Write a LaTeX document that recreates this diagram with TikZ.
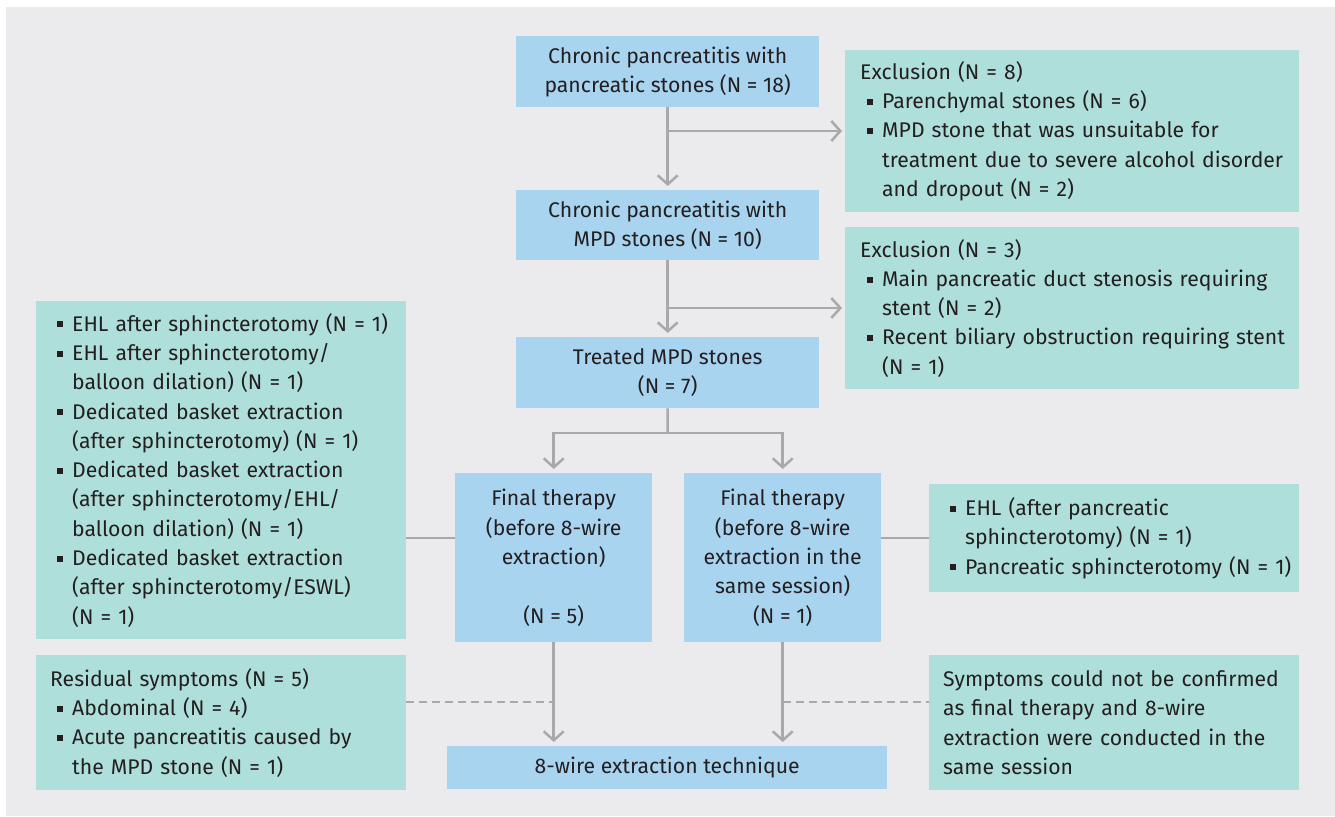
\documentclass[tikz,border=0pt]{standalone}
\usepackage{fontspec}
\setmainfont{Fira Sans}
\usetikzlibrary{arrows.meta,calc}
\definecolor{bgc}{HTML}{EBEBED}
\definecolor{bluebox}{HTML}{A9D4F0}
\definecolor{tealbox}{HTML}{AFDFDA}
\definecolor{lngray}{HTML}{A9A9AB}
\definecolor{txt}{HTML}{231F20}
\newcommand\bul{\hspace*{7pt}\makebox[15pt][l]{\raisebox{3.8pt}{\rule{6pt}{6pt}}}}
\newcommand\ind{\hspace*{22pt}}
\begin{document}
\begin{tikzpicture}[x=1pt,y=-1pt,
  every node/.style={font=\fontsize{21.2}{29.3}\selectfont, text=txt, inner sep=0pt},
  bbox/.style={fill=bluebox, anchor=north west, align=center},
  tbox/.style={fill=tealbox, anchor=north west, align=left, inner xsep=14pt},
  ln/.style={draw=lngray, line width=2.5pt},
  arr/.style={ln, -{Straight Barb[length=9pt,width=20pt,line width=2.5pt]}, shorten >=4pt},
  dsh/.style={draw=lngray, line width=2pt, dash pattern=on 8pt off 5pt}]
\useasboundingbox (0,0) rectangle (1335,816);
\fill[bgc] (6,7) rectangle (1335,816);
% main column
\node[bbox, minimum width=303pt, minimum height=71pt] (a) at (516,36)
  {Chronic pancreatitis with\\pancreatic stones (N = 18)};
\node[bbox, minimum width=303pt, minimum height=70pt] (b) at (516,190)
  {Chronic pancreatitis with\\MPD stones (N = 10)};
\node[bbox, minimum width=303pt, minimum height=71pt] (c) at (516,337)
  {Treated MPD stones\\(N = 7)};
\node[bbox, minimum width=197pt, minimum height=169pt] (d) at (455,473)
  {Final therapy\\(before 8-wire\\extraction)\\[29.3pt](N = 5)};
\node[bbox, minimum width=197pt, minimum height=169pt] (e) at (684,473)
  {Final therapy\\(before 8-wire\\extraction in the\\same session)\\(N = 1)};
\node[bbox, minimum width=440pt, minimum height=43pt] (f) at (447,746)
  {8-wire extraction technique};
% exclusion boxes
\node[tbox, inner xsep=15pt, text width=424pt, minimum height=162pt] (x1) at (845,50)
  {Exclusion (N = 8)\\
   \bul\mbox{Parenchymal stones (N = 6)}\\
   \bul\mbox{MPD stone that was unsuitable for}\\
   \ind\mbox{treatment due to severe alcohol disorder}\\
   \ind\mbox{and dropout (N = 2)}};
\node[tbox, inner xsep=15pt, text width=424pt, minimum height=162pt] (x2) at (845,227)
  {Exclusion (N = 3)\\
   \bul\mbox{Main pancreatic duct stenosis requiring}\\
   \ind\mbox{stent (N = 2)}\\
   \bul\mbox{Recent biliary obstruction requiring stent}\\
   \ind\mbox{(N = 1)}};
% side boxes
\node[tbox, text width=342pt, minimum height=338pt] (l1) at (36,301)
  {\bul\mbox{EHL after sphincterotomy (N = 1)}\\
   \bul\mbox{EHL after sphincterotomy/}\\
   \ind\mbox{balloon dilation) (N = 1)}\\
   \bul\mbox{Dedicated basket extraction}\\
   \ind\mbox{(after sphincterotomy) (N = 1)}\\
   \bul\mbox{Dedicated basket extraction}\\
   \ind\mbox{(after sphincterotomy/EHL/}\\
   \ind\mbox{balloon dilation) (N = 1)}\\
   \bul\mbox{Dedicated basket extraction}\\
   \ind\mbox{(after sphincterotomy/ESWL)}\\
   \ind\mbox{(N = 1)}};
\node[tbox, text width=342pt, minimum height=108pt] (r1) at (929,484)
  {\bul\mbox{EHL (after pancreatic}\\
   \ind\mbox{sphincterotomy) (N = 1)}\\
   \bul\mbox{Pancreatic sphincterotomy (N = 1)}};
\node[tbox, text width=342pt, minimum height=135pt] (l2) at (36,655)
  {\mbox{Residual symptoms (N = 5)}\\
   \bul\mbox{Abdominal (N = 4)}\\
   \bul\mbox{Acute pancreatitis caused by}\\
   \ind\mbox{the MPD stone (N = 1)}};
\node[tbox, text width=342pt, minimum height=135pt] (r2) at (929,655)
  {\mbox{Symptoms could not be confirmed}\\
   \mbox{as final therapy and 8-wire}\\
   \mbox{extraction were conducted in the}\\
   \mbox{same session}};
% connectors
\coordinate (j1) at (667.5,131);
\coordinate (j2) at (667.5,308);
\coordinate (j3) at (667.5,433);
\coordinate (m1) at (430,538);
\coordinate (m2) at (430,702);
\draw[arr] (a) -- (b);
\draw[arr, shorten >=3pt] (j1) -- (j1 -| x1.west);
\draw[arr] (b) -- (c);
\draw[arr, shorten >=3pt] (j2) -- (j2 -| x2.west);
\draw[ln] (c.south) -- (j3);
\draw[arr] (j3) -| (d.north);
\draw[arr] (j3) -| (e.north);
\draw[ln] (m1 -| l1.east) -- (m1 -| d.west);
\draw[ln] (m1 -| e.east) -- (m1 -| r1.west);
\draw[arr] (d.south) -- (d.south |- f.north);
\draw[arr] (e.south) -- (e.south |- f.north);
\draw[dsh] (m2 -| l2.east) -- (m2 -| d.south);
\draw[dsh] (m2 -| e.south) -- (m2 -| r2.west);
\end{tikzpicture}
\end{document}
